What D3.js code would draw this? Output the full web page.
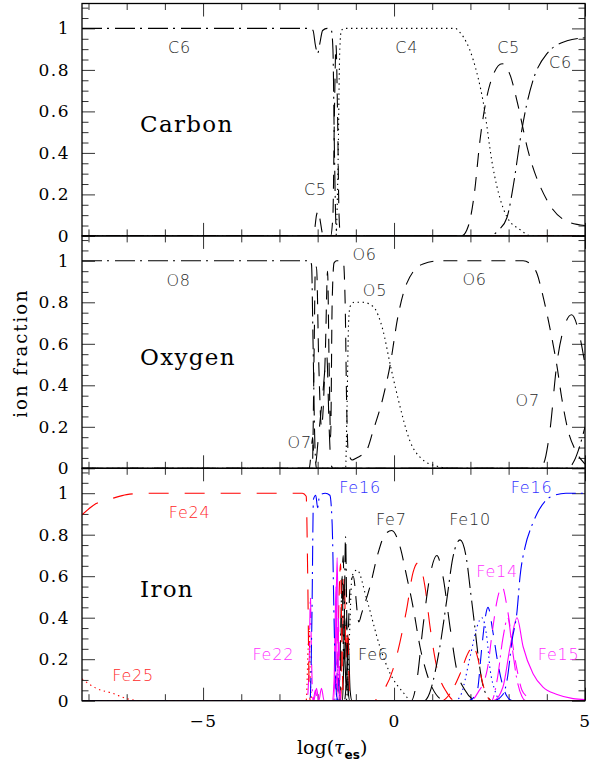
<!DOCTYPE html>
<html>
<head>
<meta charset="utf-8">
<script src="https://cdn.jsdelivr.net/npm/d3@7"></script>
<style>
  body { margin: 0; background: #fff; }
  .tick text { font-family: "DejaVu Serif", serif; font-size: 17px; letter-spacing: 1.5px; fill: #000; }
  .tick line { stroke: #333; }
</style>
</head>
<body>
<div id="chart"></div>
<script>
const width = 594;
const height = 763;
const left = 82, right = 585;
const panelTop = 3.5;
const panelH = 232.4;

// ---- data: [log(tau_es), ion fraction] ----
// Carbon
const c6 = [[-8.17,1],[-2.2,1],[-2.12,0.99],[-2.06,0.92],[-2.0,0.88],[-1.94,0.93],[-1.87,0.99],[-1.75,1],[-1.64,0.99],[-1.6,0.9],[-1.56,0.4],[-1.52,0.05],[-1.48,0],[2.5,0],[2.75,0.03],[2.96,0.09],[3.13,0.25],[3.3,0.46],[3.47,0.63],[3.64,0.75],[4.01,0.88],[4.53,0.94],[5,0.955]];
const c5 = [[-8.17,0],[-2.14,0],[-2.08,0.03],[-2.03,0.1],[-1.98,0.12],[-1.93,0.07],[-1.87,0.01],[-1.8,0],[-1.66,0],[-1.6,0.1],[-1.56,0.6],[-1.52,0.92],[-1.48,0.6],[-1.44,0.1],[-1.4,0],[1.77,0],[1.95,0.05],[2.1,0.2],[2.25,0.46],[2.51,0.73],[2.83,0.83],[3.05,0.77],[3.22,0.65],[3.51,0.41],[4.01,0.17],[4.53,0.07],[5,0.05]];
const c4 = [[-8.17,0],[-1.52,0],[-1.47,0.3],[-1.42,0.9],[-1.38,0.99],[-1.3,1],[1.6,1],[1.73,0.98],[2.07,0.85],[2.33,0.65],[2.59,0.33],[2.96,0.09],[3.3,0.03],[3.6,0],[5,0]];
const c3 = [[-8.17,0],[5,0]];

// Oxygen
const o8 = [[-8.17,1],[-2.2,1],[-2.16,0.98],[-2.12,0.6],[-2.07,0.1],[-2.03,0],[4.55,0],[4.7,0.03],[4.85,0.1],[5,0.2]];
const o7 = [[-8.17,0],[-2.22,0],[-2.17,0.08],[-2.13,0.15],[-2.1,0.05],[-2.06,0.02],[-1.98,0.15],[-1.87,0.35],[-1.76,0.54],[-1.7,0.2],[-1.65,0.02],[-1.6,0],[3.6,0],[3.9,0.02],[4.08,0.18],[4.26,0.5],[4.43,0.665],[4.65,0.74],[4.87,0.63],[5,0.5]];
const o6 = [[-8.17,0],[-2.14,0],[-2.09,0.6],[-2.06,0.97],[-2.03,0.97],[-1.97,0.5],[-1.9,0.2],[-1.8,0.55],[-1.74,0.95],[-1.7,0.5],[-1.66,0.15],[-1.62,0.8],[-1.57,0.99],[-1.5,1],[-1.33,1],[-1.28,0.8],[-1.24,0.3],[-1.2,0.08],[-1.1,0.04],[-0.98,0.05],[-0.71,0.09],[-0.55,0.18],[-0.29,0.34],[-0.1,0.5],[0.1,0.73],[0.33,0.89],[0.76,0.985],[1.2,1],[3.38,1],[3.6,0.98],[3.74,0.94],[3.9,0.83],[4.13,0.63],[4.26,0.5],[4.39,0.34],[4.56,0.18],[4.74,0.09],[5,0.02]];
const o5 = [[-8.17,0],[-1.27,0],[-1.23,0.3],[-1.19,0.7],[-1.15,0.78],[-1.05,0.8],[-0.81,0.8],[-0.55,0.78],[-0.29,0.665],[-0.1,0.5],[0.1,0.34],[0.42,0.13],[0.76,0.04],[1.13,0.01],[1.5,0],[5,0]];

// Iron
const fe25 = [[-8.17,0.105],[-7.8,0.06],[-7.36,0.035],[-7.0,0.01],[-6.6,0],[5,0]];
const fe24 = [[-8.17,0.896],[-7.8,0.95],[-7.36,0.976],[-7.0,0.993],[-6.5,1],[-2.4,1],[-2.3,0.985],[-2.26,0.6],[-2.22,0.05],[-2.19,0],[5,0]];
const fe23 = [[-8.17,0],[-2.3,0],[-2.25,0.25],[-2.22,0.35],[-2.19,0.1],[-2.15,0],[5,0]];
const fe22 = [[-8.17,0],[-2.28,0],[-2.22,0.2],[-2.19,0.5],[-2.16,0.2],[-2.12,0],[-2.06,0.05],[-2.0,0],[5,0]];
const fe18 = [[-8.17,0],[-2.1,0],[-2.03,0.06],[-1.97,0],[-1.9,0.06],[-1.83,0],[-1.62,0],[-1.57,0.1],[-1.52,0.55],[-1.49,0.15],[-1.45,0],[5,0]];
const fe16 = [[-8.17,0],[-2.2,0],[-2.15,0.4],[-2.11,0.97],[-2.05,0.99],[-2.0,0.93],[-1.95,0.99],[-1.8,1],[-1.68,0.99],[-1.62,0.85],[-1.56,0.3],[-1.5,0.02],[-1.45,0],[2.6,0],[2.85,0.03],[2.96,0.1],[3.09,0.29],[3.22,0.43],[3.3,0.6],[3.43,0.74],[3.6,0.84],[3.74,0.9],[4.08,0.98],[4.5,1],[5,1]];
const fe15 = [[-8.17,0],[-1.58,0],[-1.53,0.3],[-1.49,0.69],[-1.45,0.2],[-1.41,0],[2.6,0],[2.85,0.065],[3.04,0.26],[3.22,0.4],[3.38,0.26],[3.64,0.13],[3.9,0.065],[4.27,0.03],[4.69,0.01],[5,0.005]];
const fe14b = [[-8.17,0],[2.55,0],[2.7,0.1],[2.85,0.3],[2.98,0.4],[3.09,0.26],[3.22,0.1],[3.35,0.02],[3.45,0],[5,0]];
const fe14 = [[-8.17,0],[-1.56,0],[-1.5,0.15],[-1.46,0.4],[-1.42,0.1],[-1.38,0],[2.0,0],[2.2,0.04],[2.44,0.15],[2.59,0.355],[2.7,0.485],[2.83,0.55],[2.96,0.45],[3.09,0.29],[3.22,0.15],[3.35,0.05],[3.48,0.02],[3.6,0],[5,0]];
const fe13 = [[-8.17,0],[-1.58,0],[-1.52,0.12],[-1.48,0.2],[-1.44,0.05],[-1.4,0],[1.95,0],[2.17,0.04],[2.3,0.26],[2.38,0.39],[2.46,0.45],[2.59,0.33],[2.72,0.18],[2.85,0.07],[2.96,0.02],[3.1,0],[5,0]];
const fe12 = [[-8.17,0],[-1.52,0],[-1.48,0.15],[-1.44,0.05],[-1.4,0],[1.6,0],[1.73,0.02],[1.99,0.21],[2.17,0.355],[2.3,0.4],[2.44,0.29],[2.51,0.16],[2.64,0.05],[2.8,0],[5,0]];
const fe11 = [[-8.17,0],[-1.5,0],[-1.44,0.5],[-1.4,0.66],[-1.36,0.2],[-1.32,0],[1.25,0],[1.45,0.03],[1.73,0.13],[1.94,0.23],[2.07,0.26],[2.2,0.2],[2.3,0.1],[2.44,0.02],[2.55,0],[5,0]];
const fe10 = [[-8.17,0],[-1.45,0],[-1.4,0.3],[-1.36,0.6],[-1.32,0.2],[-1.27,0.79],[-1.23,0.3],[-1.19,0],[0.8,0],[0.86,0.01],[1.2,0.26],[1.38,0.485],[1.54,0.69],[1.73,0.775],[1.9,0.68],[2.0,0.53],[2.1,0.38],[2.2,0.22],[2.32,0.08],[2.45,0.02],[2.55,0],[5,0]];
const fe9 = [[-8.17,0],[-1.42,0],[-1.37,0.5],[-1.33,0.7],[-1.29,0.2],[-1.25,0.4],[-1.2,0.05],[-1.16,0],[0.45,0],[0.6,0.1],[0.76,0.36],[0.94,0.6],[1.12,0.7],[1.28,0.6],[1.47,0.35],[1.64,0.15],[1.86,0.05],[2.04,0.01],[2.2,0],[5,0]];
const fe8 = [[-8.17,0],[-1.4,0],[-1.35,0.3],[-1.3,0.6],[-1.26,0.2],[-1.22,0.35],[-1.17,0.05],[-1.12,0],[-0.5,0],[-0.45,0.01],[-0.03,0.15],[0.33,0.44],[0.5,0.62],[0.63,0.665],[0.81,0.55],[0.94,0.36],[1.12,0.16],[1.38,0.04],[1.6,0],[5,0]];
const fe7 = [[-8.17,0],[-1.3,0],[-1.22,0.2],[-1.15,0.55],[-1.07,0.6],[-0.92,0.38],[-0.85,0.42],[-0.63,0.55],[-0.42,0.71],[-0.24,0.8],[-0.06,0.82],[0.16,0.74],[0.33,0.6],[0.5,0.45],[0.68,0.26],[0.86,0.13],[1.2,0.01],[1.3,0],[5,0]];
const fe6 = [[-8.17,0],[-1.25,0],[-1.17,0.3],[-1.1,0.6],[-0.97,0.63],[-0.71,0.485],[-0.37,0.26],[-0.1,0.13],[0.24,0.04],[0.45,0],[5,0]];
const fe5 = [[-8.17,0],[-1.35,0],[-1.3,0.25],[-1.25,0.05],[-1.2,0.3],[-1.15,0.05],[-1.1,0],[5,0]];

// ticks
const xMajor = [-5, 0, 5];
const xMinor = [-8, -7, -6, -4, -3, -2, -1, 1, 2, 3, 4];
const yMajor = [0, 0.2, 0.4, 0.6, 0.8, 1];
const yMinor = [0.05, 0.1, 0.15, 0.25, 0.3, 0.35, 0.45, 0.5, 0.55, 0.65, 0.7, 0.75, 0.85, 0.9, 0.95, 1.05, 1.1];

// ---- styles ----
const colors = { k: "#000", r: "#ff0000", b: "#0000ff", m: "#ff00ff" };
const labelColors = { k: "#2a2a2a", r: "#ff2a2a", b: "#3030ff", m: "#ff30ff" };
const dashes = {
  solid: null,
  dotted: "1.4,3.6",
  dashed: "14,10",
  longdash: "20,16",
  dashdot: "20,5,2,6"
};

const panels = [
  {
    name: "Carbon",
    series: [
      { pts: c3, color: "r", dash: "dashed" },
      { pts: c4, color: "k", dash: "dotted" },
      { pts: c5, color: "k", dash: "dashed" },
      { pts: c6, color: "k", dash: "dashdot" }
    ],
    labels: [
      { t: "C6", x: -5.62, y: 0.881, c: "k" },
      { t: "C4", x: 0.33, y: 0.881, c: "k" },
      { t: "C5", x: 3.0, y: 0.881, c: "k" },
      { t: "C6", x: 4.36, y: 0.809, c: "k" },
      { t: "C5", x: -2.06, y: 0.197, c: "k" }
    ]
  },
  {
    name: "Oxygen",
    series: [
      { pts: o5, color: "k", dash: "dotted" },
      { pts: o6, color: "k", dash: "dashed" },
      { pts: o7, color: "k", dash: "longdash" },
      { pts: o8, color: "k", dash: "dashdot" }
    ],
    labels: [
      { t: "O8", x: -5.64, y: 0.878, c: "k" },
      { t: "O6", x: -0.77, y: 1.003, c: "k" },
      { t: "O5", x: -0.5, y: 0.83, c: "k" },
      { t: "O6", x: 2.11, y: 0.883, c: "k" },
      { t: "O7", x: 3.5, y: 0.3, c: "k" },
      { t: "O7", x: -2.47, y: 0.098, c: "k" }
    ]
  },
  {
    name: "Iron",
    series: [
      { pts: fe5, color: "k", dash: "solid" },
      { pts: fe6, color: "k", dash: "dotted" },
      { pts: fe7, color: "k", dash: "dashed" },
      { pts: fe8, color: "r", dash: "longdash" },
      { pts: fe9, color: "k", dash: "longdash" },
      { pts: fe10, color: "k", dash: "dashdot" },
      { pts: fe11, color: "r", dash: "dashed" },
      { pts: fe12, color: "b", dash: "dotted" },
      { pts: fe13, color: "b", dash: "dashed" },
      { pts: fe14, color: "m", dash: "dashed" },
      { pts: fe14b, color: "m", dash: "dashdot" },
      { pts: fe15, color: "m", dash: "solid" },
      { pts: fe18, color: "m", dash: "solid" },
      { pts: fe22, color: "m", dash: "dashdot" },
      { pts: fe23, color: "r", dash: "dotted" },
      { pts: fe25, color: "r", dash: "dotted" },
      { pts: fe24, color: "r", dash: "longdash" },
      { pts: fe16, color: "b", dash: "dashdot" }
    ],
    labels: [
      { t: "Fe24", x: -5.35, y: 0.88, c: "r" },
      { t: "Fe25", x: -6.83, y: 0.095, c: "r" },
      { t: "Fe22", x: -3.16, y: 0.196, c: "m" },
      { t: "Fe16", x: -0.89, y: 1.0, c: "b" },
      { t: "Fe7", x: -0.07, y: 0.846, c: "k" },
      { t: "Fe10", x: 1.99, y: 0.846, c: "k" },
      { t: "Fe16", x: 3.6, y: 1.0, c: "b" },
      { t: "Fe14", x: 2.7, y: 0.596, c: "m" },
      { t: "Fe6", x: -0.54, y: 0.196, c: "k" },
      { t: "Fe15", x: 4.31, y: 0.196, c: "m" }
    ]
  }
];

const svg = d3.select("#chart")
  .append("svg")
  .attr("width", width)
  .attr("height", height);

const x = d3.scaleLinear().domain([-8.17, 5]).range([left, right]);

panels.forEach((p, i) => {
  const top = panelTop + i * panelH;
  const bottom = top + panelH;
  const y = d3.scaleLinear().domain([0, 1.12]).range([bottom, top]);
  const isLast = i === panels.length - 1;

  const g = svg.append("g");

  g.append("clipPath").attr("id", "clip" + i)
    .append("rect")
    .attr("x", left).attr("y", top)
    .attr("width", right - left).attr("height", panelH);

  // ticks on all four sides, pointing in
  const addAxis = (axis, tx, ty) => {
    const a = g.append("g").attr("transform", `translate(${tx},${ty})`).call(axis);
    a.select(".domain").remove();
    return a;
  };
  addAxis(d3.axisBottom(x).tickValues(xMajor).tickSize(-13).tickPadding(14)
    .tickFormat(isLast ? d3.format("") : ""), 0, bottom);
  addAxis(d3.axisBottom(x).tickValues(xMinor).tickSize(-6.5).tickFormat(""), 0, bottom);
  addAxis(d3.axisTop(x).tickValues(xMajor).tickSize(-13).tickFormat(""), 0, top);
  addAxis(d3.axisTop(x).tickValues(xMinor).tickSize(-6.5).tickFormat(""), 0, top);
  addAxis(d3.axisLeft(y).tickValues(yMajor).tickSize(-13).tickPadding(12)
    .tickFormat(d => d === 0 ? "0" : d === 1 ? "1" : d.toFixed(1)), left, 0);
  addAxis(d3.axisLeft(y).tickValues(yMinor).tickSize(-6.5).tickFormat(""), left, 0);
  addAxis(d3.axisRight(y).tickValues(yMajor).tickSize(-13).tickFormat(""), right, 0);
  addAxis(d3.axisRight(y).tickValues(yMinor).tickSize(-6.5).tickFormat(""), right, 0);

  const line = d3.line()
    .x(d => x(d[0]))
    .y(d => y(d[1]))
    .curve(d3.curveMonotoneX);

  g.append("g")
    .attr("clip-path", `url(#clip${i})`)
    .selectAll("path")
    .data(p.series)
    .enter()
    .append("path")
    .attr("d", d => line(d.pts))
    .attr("fill", "none")
    .attr("stroke", d => colors[d.color])
    .attr("stroke-width", 1.1)
    .attr("stroke-dasharray", d => dashes[d.dash]);

  g.append("rect")
    .attr("x", left).attr("y", top)
    .attr("width", right - left).attr("height", panelH)
    .attr("fill", "none")
    .attr("stroke", "#000")
    .attr("stroke-width", 1.3);

  g.selectAll(".ionlabel")
    .data(p.labels)
    .enter()
    .append("text")
    .attr("class", "ionlabel")
    .attr("x", d => x(d.x))
    .attr("y", d => y(d.y))
    .attr("text-anchor", "middle")
    .style("font-family", "'DejaVu Sans', sans-serif")
    .style("font-size", "16px")
    .style("font-weight", "300")
    .style("letter-spacing", "0.8px")
    .attr("fill", d => labelColors[d.c])
    .text(d => d.t);

  g.append("text")
    .attr("x", x(-6.65))
    .attr("y", y(0.5))
    .style("font-family", "'DejaVu Serif', serif")
    .style("font-size", "23px")
    .style("letter-spacing", "1.3px")
    .text(p.name);
});

// axis titles
svg.append("text")
  .attr("transform", "translate(27,353) rotate(-90)")
  .attr("text-anchor", "middle")
  .style("font-family", "'DejaVu Serif', serif")
  .style("font-size", "18px")
  .style("letter-spacing", "2px")
  .text("ion fraction");

const xt = svg.append("text")
  .attr("x", 297)
  .attr("y", 754)
  .style("font-family", "'DejaVu Serif', serif")
  .style("font-size", "19px");
xt.append("tspan").text("log(");
xt.append("tspan").style("font-style", "italic").text("τ");
xt.append("tspan").attr("dy", 5).style("font-family", "'DejaVu Sans', sans-serif")
  .style("font-weight", "bold").style("font-size", "12px").text("es");
xt.append("tspan").attr("dy", -5).text(")");
</script>
</body>
</html>
